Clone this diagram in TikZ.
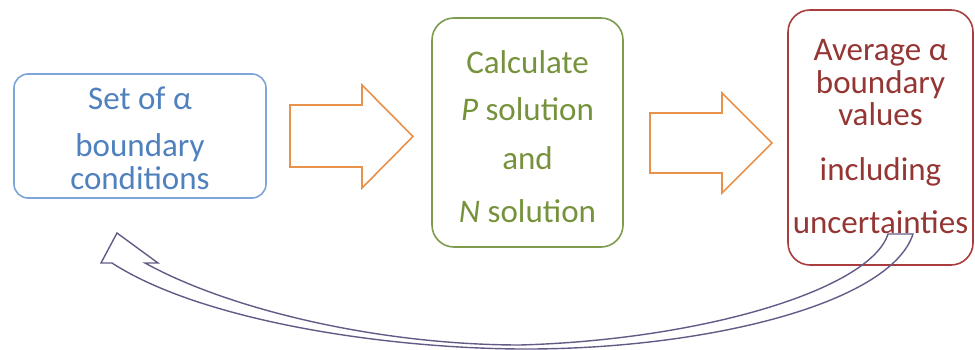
\documentclass[tikz,border=0pt]{standalone}
\usepackage{fontspec}
\setmainfont{Carlito}
\usepackage{xcolor}
\usetikzlibrary{positioning}

\definecolor{blueline}{RGB}{125,165,215}
\definecolor{bluetext}{RGB}{79,129,189}
\definecolor{greenline}{RGB}{125,155,75}
\definecolor{greentext}{RGB}{118,146,60}
\definecolor{redline}{RGB}{170,60,62}
\definecolor{redtext}{RGB}{148,54,52}
\definecolor{arroworange}{RGB}{232,145,75}
\definecolor{looppurple}{RGB}{100,90,135}

\tikzset{
  box/.style={draw, line width=1.6pt, inner sep=0pt},
  boxtext/.style={align=center, inner sep=0pt,
    font=\fontsize{33}{31}\selectfont},
  blockarrow/.style={draw=arroworange, line width=1.6pt, line join=miter},
  loopline/.style={draw=looppurple, line width=1.4pt, line join=miter}
}

\begin{document}
\begin{tikzpicture}[x=1pt,y=-1pt]
    \useasboundingbox (0,0) rectangle (975,350);

    % Boxes
    \node[box, draw=blueline, rounded corners=14pt,
      minimum width=252pt, minimum height=124pt] (bc) at (140,136) {};
    \node[box, draw=greenline, rounded corners=22pt,
      minimum width=191pt, minimum height=229pt] (calc) at (527.5,132.5) {};
    \node[box, draw=redline, rounded corners=22pt,
      minimum width=185pt, minimum height=255pt] (avg) at (880.5,137.5) {};

    % Texts
    \node[boxtext, text=bluetext, yshift=-2.5pt] (bctext) at (bc.center)
      {Set of α\\[16pt] boundary\\[2pt] conditions};
    \node[boxtext, text=greentext, yshift=-4.5pt] (calctext) at (calc.center)
      {Calculate\\[16pt] \textit{P} solution\\[18pt] and\\[22pt] \textit{N} solution};
    \node[boxtext, text=redtext, yshift=0.5pt] (avgtext) at (avg.center)
      {Average α\\[1.5pt] boundary\\[1.5pt] values\\[24pt] including\\[22pt] uncertainties};

    % Block arrows
    \draw[blockarrow] (290,105) -- (362,105) -- (362,85) -- (413,136.5)
      -- (362,188) -- (362,167) -- (290,167) -- cycle;
    \draw[blockarrow] (650,113) -- (722,113) -- (722,93) -- (772,143)
      -- (722,193) -- (722,173) -- (650,173) -- cycle;

    % Loop back
    \draw[loopline] (117,233) -- (101,263) -- (112,263)
      .. controls (200,320) and (380,348) .. (520,349)
      .. controls (700,350) and (890,305) .. (913,234) -- (888,234)
      .. controls (870,290) and (700,340) .. (520,345)
      .. controls (380,345) and (230,310) .. (145,263) -- (158,263) -- cycle;
\end{tikzpicture}
\end{document}
